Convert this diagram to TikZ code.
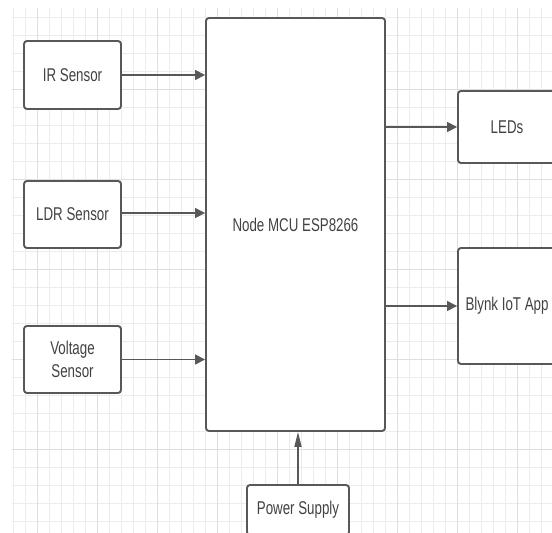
\documentclass[tikz,border=0pt]{standalone}
\usepackage{fontspec}
\setmainfont[FakeStretch=0.72]{Liberation Sans}
\usetikzlibrary{arrows.meta,positioning}
\definecolor{LN}{RGB}{88,88,88}
\definecolor{TX}{RGB}{66,66,66}
\definecolor{GRm}{RGB}{236,236,236}
\definecolor{GRM}{RGB}{222,222,222}
\tikzset{
  % plain block
  blk/.style={
    draw=LN, fill=white, line width=1.9pt, rounded corners=3pt,
    align=center, inner sep=2pt,
    font=\fontsize{18.5}{23}\selectfont, text=TX
  },
  % sensor inputs
  sensor/.style={blk, minimum width=97pt, minimum height=68pt},
  % outputs on the right
  outbox/.style={blk, minimum width=98pt},
  % connectors
  arr/.style={-{Triangle[length=10pt,width=10pt]}, line width=1.6pt, LN},
  varr/.style={-{Triangle[length=15pt,width=7pt]}, line width=1.6pt, LN},
}
\begin{document}
\begin{tikzpicture}[x=1pt, y=1pt]

% ── Canvas and grid ──────────────────────────────────────────────────────────
\useasboundingbox[fill=white] (0,0) rectangle (552,-533);
\foreach \x in {13.5,25.5,...,552} \draw[GRm, line width=0.6pt] (\x,-8) -- (\x,-533);
\foreach \y in {17,35,...,533} \draw[GRm, line width=0.6pt] (12,-\y) -- (552,-\y);
\foreach \x in {37.5,97.5,...,552} \draw[GRM, line width=0.8pt] (\x,-8) -- (\x,-533);
\foreach \y in {89,179,...,533} \draw[GRM, line width=0.8pt] (12,-\y) -- (552,-\y);

% ── Controller ───────────────────────────────────────────────────────────────
\node[blk, minimum width=179pt, minimum height=413pt] (mcu) at (295.5,-224.5)
  {Node MCU ESP8266};

% ── Inputs ───────────────────────────────────────────────────────────────────
\node[sensor] (ir)  at (72.5,-75)    {IR Sensor};
\node[sensor, minimum height=67pt] (ldr) at (72.5,-214.5) {LDR Sensor};
\node[sensor, minimum height=67pt] (volt) at (72.5,-359.5) {Voltage\\Sensor};

% ── Outputs ──────────────────────────────────────────────────────────────────
\node[outbox, minimum height=72pt]  (leds)  at (507,-127) {LEDs};
\node[outbox, minimum height=116pt] (blynk) at (507,-306) {Blynk IoT App};

% ── Supply ───────────────────────────────────────────────────────────────────
\node[blk, minimum width=102pt, minimum height=50pt] (pwr) at (298,-510)
  {Power Supply};

% ── Arrows ───────────────────────────────────────────────────────────────────
\draw[arr] (ir)   -- (ir -| mcu.west);
\draw[arr] (ldr.east |- 0,-213) -- (mcu.west |- 0,-213);
\draw[arr] (volt) -- (volt -| mcu.west);
\draw[arr] (mcu.east |- leds)  -- (leds);
\draw[arr] (mcu.east |- blynk) -- (blynk);
\draw[varr] (pwr) -- (pwr |- mcu.south);

\end{tikzpicture}
\end{document}
